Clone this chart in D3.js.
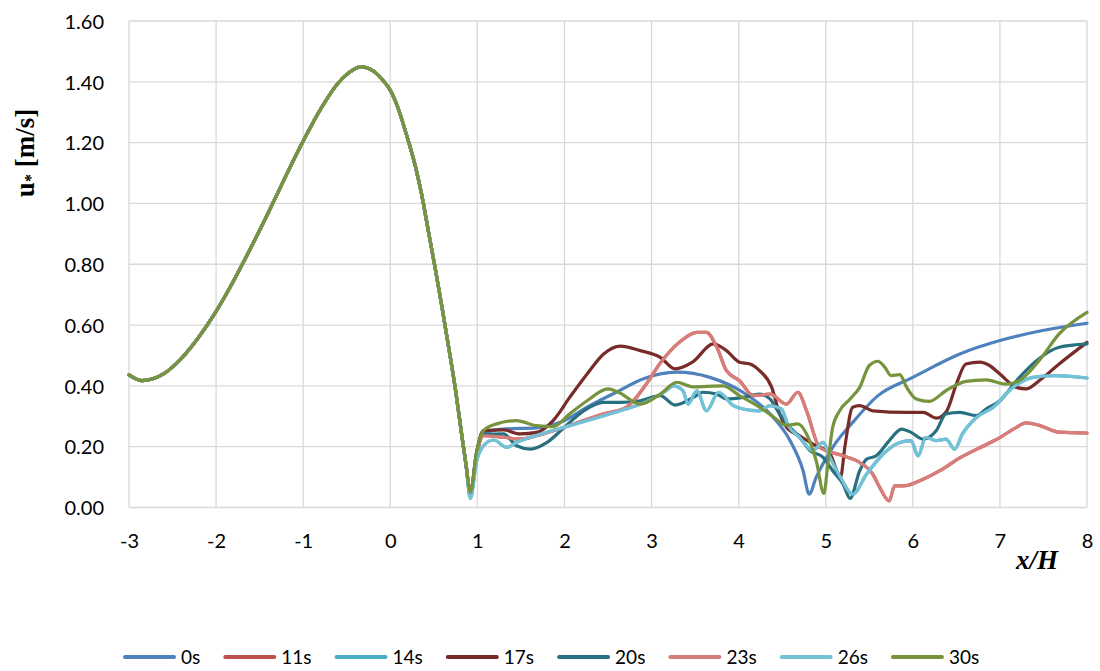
<!DOCTYPE html>
<html><head><meta charset="utf-8">
<script src="https://cdn.jsdelivr.net/npm/d3@7"></script>
<style>body{margin:0;background:#fff}svg{display:block}</style>
</head><body>
<svg id="c" width="1100" height="671"></svg>
<script>
// ---- data ----
const seriesNames = ["0s","11s","14s","17s","20s","23s","26s","30s"];
const seriesColors = ["#4F81BD","#C0504D","#4BACC6","#772C2A","#28707F","#D77E7B","#74C2D7","#77933C"];
const xTicks = [-3,-2,-1,0,1,2,3,4,5,6,7,8];
const yTicks = [0,0.2,0.4,0.6,0.8,1.0,1.2,1.4,1.6];

// shared upstream part (all series coincide)
const common = [[-3.00,0.436],[-2.85,0.417],[-2.6,0.44],[-2.4,0.49],[-2.2,0.56],[-2.0,0.645],[-1.8,0.745],[-1.6,0.855],[-1.4,0.97],[-1.2,1.09],[-1.0,1.205],[-0.8,1.31],[-0.6,1.395],[-0.45,1.435],[-0.34,1.449],[-0.2,1.437],[-0.1,1.41],[0.00,1.372],[0.1,1.305],[0.17,1.241],[0.29,1.12],[0.36,1.03],[0.44,0.905],[0.52,0.78],[0.59,0.665],[0.67,0.528],[0.75,0.385],[0.82,0.240],[0.87,0.140]];

const tail0s = [[0.92,0.045],[0.99,0.18],[1.07,0.245],[1.30,0.258],[1.68,0.262],[2.0,0.286],[2.26,0.33],[2.6,0.38],[2.9,0.423],[3.29,0.445],[3.67,0.428],[4.05,0.379],[4.36,0.308],[4.59,0.22],[4.74,0.121],[4.81,0.044],[4.89,0.099],[5.08,0.198],[5.31,0.28],[5.6,0.368],[6.0,0.428],[6.54,0.505],[7.0,0.549],[7.49,0.582],[8.0,0.606]];
const tail17s = [[0.92,0.05],[0.99,0.18],[1.07,0.253],[1.30,0.255],[1.49,0.242],[1.68,0.247],[1.87,0.286],[2.06,0.362],[2.26,0.439],[2.45,0.505],[2.64,0.531],[2.87,0.516],[3.10,0.494],[3.27,0.456],[3.47,0.478],[3.71,0.538],[3.86,0.516],[4.01,0.478],[4.13,0.472],[4.24,0.45],[4.38,0.395],[4.47,0.308],[4.55,0.264],[4.70,0.236],[4.85,0.209],[5.05,0.176],[5.17,0.10],[5.22,0.20],[5.31,0.33],[5.39,0.335],[5.54,0.318],[5.93,0.313],[6.12,0.313],[6.27,0.294],[6.39,0.318],[6.50,0.406],[6.61,0.472],[6.77,0.478],[6.88,0.467],[7.0,0.439],[7.19,0.395],[7.30,0.39],[7.45,0.417],[7.68,0.472],[8.0,0.543]];
const tail20s = [[0.92,0.035],[0.99,0.17],[1.07,0.24],[1.30,0.242],[1.45,0.203],[1.61,0.192],[1.80,0.214],[2.0,0.264],[2.22,0.318],[2.45,0.346],[2.64,0.346],[2.87,0.351],[3.10,0.368],[3.27,0.337],[3.48,0.362],[3.59,0.379],[3.75,0.373],[3.86,0.357],[4.05,0.362],[4.24,0.373],[4.36,0.357],[4.47,0.308],[4.59,0.264],[4.70,0.231],[4.82,0.187],[4.97,0.165],[5.08,0.121],[5.20,0.077],[5.28,0.03],[5.39,0.121],[5.47,0.159],[5.58,0.17],[5.73,0.22],[5.87,0.258],[5.98,0.247],[6.12,0.225],[6.27,0.253],[6.38,0.308],[6.54,0.313],[6.73,0.302],[6.84,0.324],[7.0,0.351],[7.19,0.417],[7.42,0.483],[7.68,0.527],[8.0,0.538]];
const tail23s = [[0.92,0.05],[0.99,0.17],[1.07,0.236],[1.30,0.231],[1.49,0.225],[1.68,0.236],[2.0,0.264],[2.45,0.308],[2.71,0.329],[2.94,0.406],[3.10,0.475],[3.33,0.546],[3.52,0.576],[3.63,0.576],[3.75,0.527],[3.86,0.45],[4.01,0.417],[4.17,0.368],[4.36,0.373],[4.55,0.34],[4.68,0.379],[4.78,0.318],[4.93,0.198],[5.20,0.17],[5.39,0.148],[5.54,0.11],[5.62,0.066],[5.73,0.022],[5.79,0.071],[5.89,0.071],[6.08,0.088],[6.31,0.121],[6.54,0.163],[6.88,0.212],[7.0,0.23],[7.18,0.262],[7.30,0.278],[7.45,0.27],[7.68,0.248],[8.0,0.245]];
const tail26s = [[0.92,0.03],[0.99,0.15],[1.07,0.203],[1.185,0.222],[1.34,0.198],[1.45,0.214],[1.61,0.231],[2.0,0.264],[2.45,0.302],[2.64,0.318],[2.87,0.34],[3.17,0.384],[3.25,0.40],[3.36,0.384],[3.42,0.34],[3.52,0.384],[3.63,0.318],[3.77,0.379],[3.94,0.335],[4.05,0.324],[4.24,0.318],[4.36,0.335],[4.49,0.324],[4.57,0.269],[4.70,0.231],[4.85,0.187],[4.97,0.214],[5.05,0.165],[5.16,0.104],[5.31,0.044],[5.47,0.11],[5.66,0.176],[5.85,0.214],[5.98,0.22],[6.06,0.17],[6.15,0.231],[6.27,0.22],[6.38,0.225],[6.48,0.192],[6.57,0.242],[6.73,0.296],[6.92,0.329],[7.15,0.395],[7.38,0.428],[7.61,0.434],[8.0,0.426]];
const tail30s = [[0.92,0.05],[0.99,0.18],[1.07,0.253],[1.22,0.275],[1.45,0.286],[1.68,0.269],[1.87,0.266],[2.06,0.308],[2.26,0.351],[2.50,0.39],[2.62,0.379],[2.87,0.34],[3.10,0.373],[3.29,0.412],[3.47,0.397],[3.82,0.40],[4.01,0.368],[4.24,0.33],[4.39,0.30],[4.55,0.27],[4.68,0.275],[4.78,0.242],[4.89,0.154],[4.98,0.046],[5.02,0.132],[5.08,0.264],[5.16,0.318],[5.28,0.357],[5.39,0.395],[5.50,0.467],[5.60,0.481],[5.68,0.461],[5.75,0.434],[5.85,0.437],[5.93,0.395],[6.04,0.357],[6.19,0.349],[6.38,0.384],[6.61,0.415],[6.84,0.42],[7.07,0.406],[7.22,0.417],[7.45,0.483],[7.68,0.571],[8.0,0.642]];
// 11s and 14s lie hidden beneath 23s and 26s
const tail11s = tail23s;
const tail14s = tail26s;
const tails = [tail0s,tail11s,tail14s,tail17s,tail20s,tail23s,tail26s,tail30s];

// ---- chart ----
const svg = d3.select("#c");
const x = d3.scaleLinear().domain([-3,8]).range([129,1087]);
const y = d3.scaleLinear().domain([0,1.6]).range([507.5,21]);
const tickFont = "Lato, 'Open Sans', sans-serif";

const grid = svg.append("g");
grid.selectAll("line.h").data(yTicks).join("line")
  .attr("x1",x(-3)).attr("x2",x(8)).attr("y1",d=>y(d)).attr("y2",d=>y(d))
  .attr("stroke","#D9D9D9").attr("stroke-width",1.3);
grid.selectAll("line.v").data(xTicks).join("line")
  .attr("y1",y(0)).attr("y2",y(1.6)).attr("x1",d=>x(d)).attr("x2",d=>x(d))
  .attr("stroke","#D9D9D9").attr("stroke-width",1.3);

const yAxis = svg.append("g").attr("transform","translate(104,0)")
  .call(d3.axisLeft(y).tickValues(yTicks).tickFormat(d3.format(".2f")).tickSize(0).tickPadding(0));
yAxis.select(".domain").remove();
yAxis.selectAll("text").attr("font-family",tickFont).attr("font-size",20).attr("fill","#000").attr("dy","0.36em");

const xAxis = svg.append("g").attr("transform","translate(0,532)")
  .call(d3.axisBottom(x).tickValues(xTicks).tickFormat(d=>String(d)).tickSize(0).tickPadding(0));
xAxis.select(".domain").remove();
xAxis.selectAll("text").attr("font-family",tickFont).attr("font-size",20).attr("fill","#000").attr("dy","0.8em");

const line = d3.line().x(d=>x(d[0])).y(d=>y(d[1])).curve(d3.curveMonotoneX);
const lines = svg.append("g");
tails.forEach((t,i)=>{
  lines.append("path").datum(common.concat(t))
    .attr("d",line).attr("fill","none").attr("stroke",seriesColors[i])
    .attr("stroke-width",3.2).attr("stroke-linejoin","round").attr("stroke-linecap","round");
});

// axis titles
const yt = svg.append("text").attr("transform","translate(34,153) rotate(-90)")
  .attr("text-anchor","middle").attr("font-family","'Liberation Serif', serif")
  .attr("font-weight","bold").attr("font-size",27).attr("fill","#000");
yt.append("tspan").text("u");
yt.append("tspan").text("*").attr("font-size",16).attr("dy",2);
yt.append("tspan").text(" [m/s]").attr("dy",-2);

svg.append("text").attr("x",1058).attr("y",569).attr("text-anchor","end")
  .attr("font-family","'Liberation Serif', serif").attr("font-weight","bold").attr("font-style","italic")
  .attr("font-size",27).attr("fill","#000").text("x/H");

// legend
const leg = svg.append("g");
let lx = 123;
seriesNames.forEach((n,i)=>{
  leg.append("line").attr("x1",lx+2).attr("x2",lx+51).attr("y1",657).attr("y2",657)
    .attr("stroke",seriesColors[i]).attr("stroke-width",4).attr("stroke-linecap","round");
  const t = leg.append("text").attr("x",lx+58).attr("y",657).attr("dy","0.35em")
    .attr("font-family",tickFont).attr("font-size",19).attr("fill","#000").text(n);
  lx = lx + 58 + t.node().getComputedTextLength() + 23;
});
</script>
</body></html>
